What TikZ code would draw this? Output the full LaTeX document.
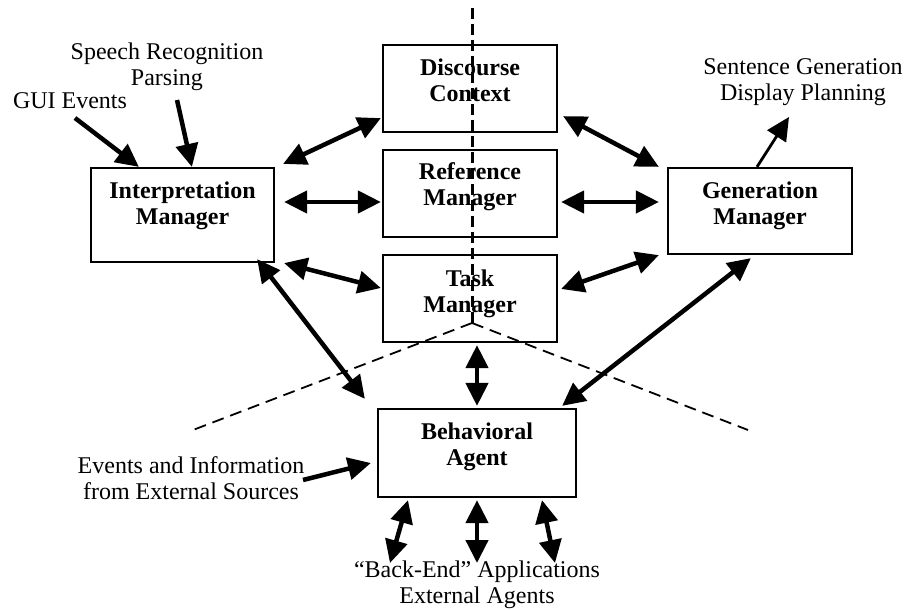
\documentclass[tikz,border=0pt]{standalone}
\usepackage{fontspec}
\setmainfont{Liberation Serif}
\usetikzlibrary{arrows.meta,calc}
\begin{document}
\begin{tikzpicture}[x=1pt,y=-1pt,
  box/.style={draw,line width=2.2pt,inner sep=0pt,fill=white},
  btxt/.style={font=\fontsize{24}{26}\selectfont\bfseries,align=center,inner sep=0pt,anchor=base},
  lbl/.style={font=\fontsize{24}{26}\selectfont,align=center,inner sep=0pt,anchor=base},
  dbl/.style={{Triangle[length=23pt,width=22pt]}-{Triangle[length=23pt,width=22pt]},line width=4.5pt},
  sgl/.style={-{Triangle[length=23pt,width=22pt]},line width=4.5pt},
  thinarr/.style={-{Triangle[length=23pt,width=22pt]},line width=2.8pt},
  vdash/.style={line width=3pt,dash pattern=on 11pt off 5pt},
  ldash/.style={line width=1.8pt,dash pattern=on 12pt off 7pt}]
\useasboundingbox (0,0) rectangle (906,610);
% boxes
\node[box,minimum width=174pt,minimum height=87pt] (dc) at (470,88.5) {};
\node[box,minimum width=174pt,minimum height=87pt] (rm) at (470,193.5) {};
\node[box,minimum width=174pt,minimum height=87pt] (tm) at (470,298.5) {};
\node[box,minimum width=183pt,minimum height=94pt] (im) at (182.5,215) {};
\node[box,minimum width=184pt,minimum height=86pt] (gm) at (760,211) {};
\node[box,minimum width=198pt,minimum height=88pt] (ba) at (477,453) {};
% box texts (anchor = baseline of last line)
\node[btxt] (dct) at (470,102) {Discourse\\Context};
\node[btxt] (rmt) at (470,205) {Reference\\Manager};
\node[btxt] (tmt) at (470,312) {Task\\Manager};
\node[btxt] (imt) at (182.5,224) {Interpretation\\Manager};
\node[btxt] (gmt) at (760,224) {Generation\\Manager};
\node[btxt] (bat) at (477,465) {Behavioral\\Agent};
% labels
\node[lbl] (sr) at (167,85) {Speech Recognition\\Parsing};
\node[lbl] (gui) at (70,109) {GUI Events};
\node[lbl] (sg) at (803,100) {Sentence Generation\\Display Planning};
\node[lbl] (ev) at (191,499) {Events and Information\\from External Sources};
\node[lbl] (be) at (477,603) {“Back-End” Applications\\External Agents};
% free ends
\coordinate (guitail) at (75,118);
\coordinate (srtail) at (177,100);
\coordinate (sgtip) at (789,117);
\coordinate (evtail) at (303,480);
\coordinate (be1) at (390,563);
\coordinate (be2) at (477,563);
\coordinate (be3) at (555,563);
\coordinate (apex) at (472,323);
\coordinate (vtop) at (472,8);
\coordinate (lend) at (193,430);
\coordinate (rend) at (748,430);
% dashed lines
\draw[vdash] (vtop) -- (apex);
\draw[ldash] (apex) -- (lend);
\draw[ldash] (apex) -- (rend);
% arrows
\draw[sgl] (guitail) -- ($(im.north west)+(49,0)$);
\draw[sgl] (srtail) -- ($(im.north west)+(102,0)$);
\draw[dbl] ($(im.north east)+(8,-3)$) -- ($(dc.south west)+(-1,-15)$);
\draw[dbl] ($(im.east)+(9,-13)$) -- ($(rm.west)+(-1,8.5)$);
\draw[dbl] ($(im.south east)+(9,0)$) -- ($(tm.west)+(-1,-10.5)$);
\draw[dbl] ($(im.south east)+(-18,-4)$) -- ($(ba.north west)+(-12,-9)$);
\draw[dbl] ($(dc.south east)+(5,-17)$) -- ($(gm.north west)+(-8,0)$);
\draw[dbl] ($(rm.east)+(3,8.5)$) -- ($(gm.west)+(-8,-9)$);
\draw[dbl] ($(tm.east)+(3,-9.5)$) -- ($(gm.south west)+(-8,0)$);
\draw[thinarr] ($(gm.north)+(-3,0)$) -- (sgtip);
\draw[dbl] ($(ba.north east)+(-15,-2)$) -- ($(gm.south west)+(84,3)$);
\draw[dbl] ($(tm.south)+(7,2)$) -- ($(ba.north)+(0,-2)$);
\draw[sgl] (evtail) -- ($(ba.west)+(-6,10)$);
\draw[dbl] ($(ba.south)+(-69,2)$) -- (be1);
\draw[dbl] ($(ba.south)+(0,2)$) -- (be2);
\draw[dbl] ($(ba.south)+(65,2)$) -- (be3);
\end{tikzpicture}
\end{document}
